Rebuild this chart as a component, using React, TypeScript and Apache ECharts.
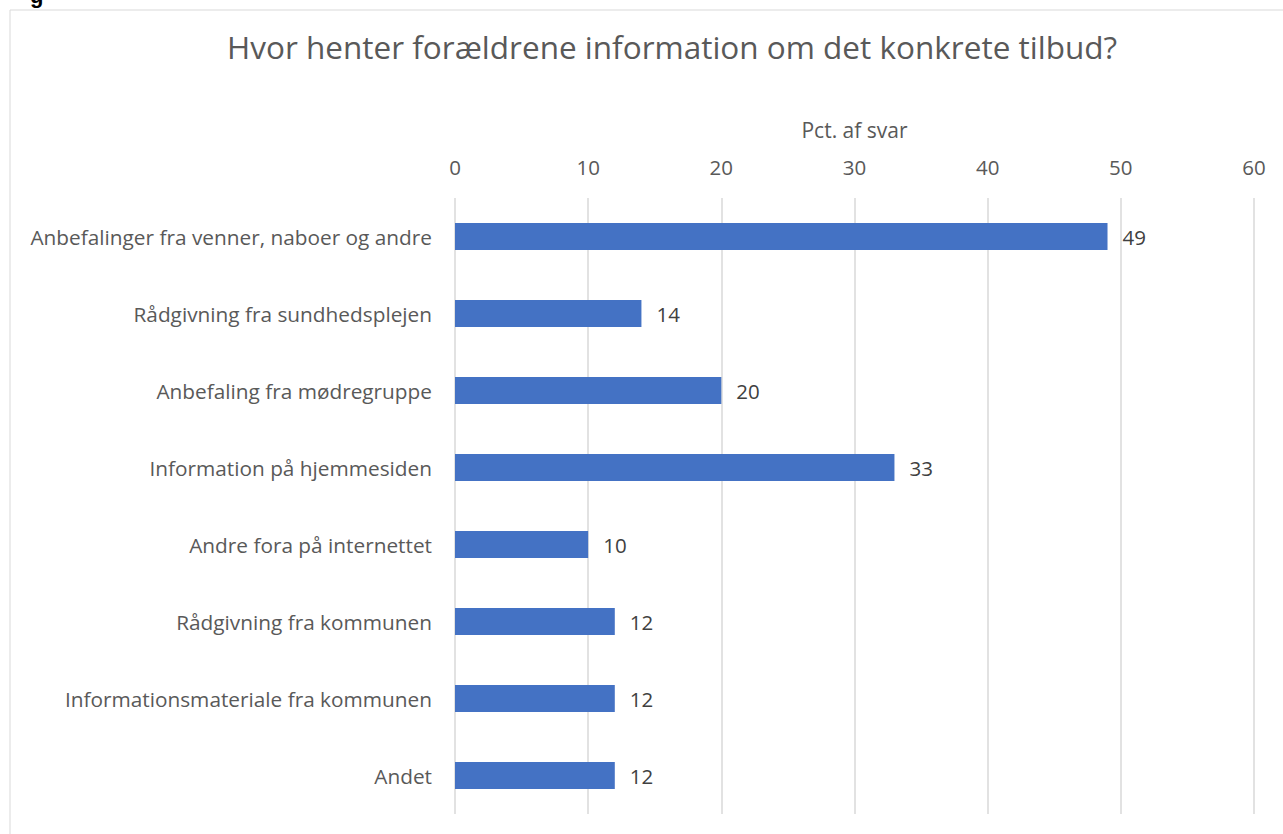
import React, { useEffect, useRef } from "react";
import * as echarts from "echarts";

const categories = [
  "Anbefalinger fra venner, naboer og andre",
  "Rådgivning fra sundhedsplejen",
  "Anbefaling fra mødregruppe",
  "Information på hjemmesiden",
  "Andre fora på internettet",
  "Rådgivning fra kommunen",
  "Informationsmateriale fra kommunen",
  "Andet",
];
const values = [49, 14, 20, 33, 10, 12, 12, 12];
const titleText = "Hvor henter forældrene information om det konkrete tilbud?";
const axisName = "Pct. af svar";

const FONT = "'Open Sans', sans-serif";

export default function App() {
  const ref = useRef<HTMLDivElement>(null);
  useEffect(() => {
    document.body.style.margin = "0";
    const chart = echarts.init(ref.current!, null, { renderer: "svg" });
    chart.setOption({
      animation: false,
      textStyle: { fontFamily: FONT },
      graphic: [
        {
          type: "rect",
          shape: { x: 10, y: 10, width: 1300, height: 850 },
          style: { fill: "none", stroke: "#d9d9d9", lineWidth: 1 },
          silent: true,
        },
        {
          type: "text",
          x: 30,
          y: -16,
          style: { text: "g", fontSize: 22, fontWeight: "bold", fill: "#000", fontFamily: "'Liberation Sans', sans-serif" },
        },
      ],
      title: {
        text: titleText,
        left: 222,
        top: 25,
        textStyle: { fontSize: 31.5, fontWeight: "normal", color: "#595959", fontFamily: FONT },
      },
      grid: { left: 455, right: 29, top: 198, bottom: 20, containLabel: false },
      xAxis: {
        type: "value",
        position: "top",
        min: 0,
        max: 60,
        interval: 10,
        name: axisName,
        nameLocation: "middle",
        nameGap: 58,
        nameTextStyle: { fontSize: 21, color: "#595959", fontFamily: FONT },
        axisLine: { show: false },
        axisTick: { show: false },
        axisLabel: { fontSize: 20.5, color: "#595959", margin: 21, fontFamily: FONT },
        splitLine: { show: true, lineStyle: { color: "#d9d9d9", width: 1.5 } },
      },
      yAxis: {
        type: "category",
        data: categories,
        inverse: true,
        axisLine: { show: false },
        axisTick: { show: false },
        axisLabel: { fontSize: 20.8, color: "#595959", margin: 23, fontFamily: FONT },
      },
      series: [
        {
          type: "bar",
          data: values,
          barWidth: 27,
          itemStyle: { color: "#4472c4" },
          label: {
            show: true,
            position: "right",
            distance: 15,
            fontSize: 20.5,
            color: "#404040",
            fontFamily: FONT,
          },
        },
      ],
    });
    return () => chart.dispose();
  }, []);
  return <div ref={ref} style={{ width: 1283, height: 834 }} />;
}
